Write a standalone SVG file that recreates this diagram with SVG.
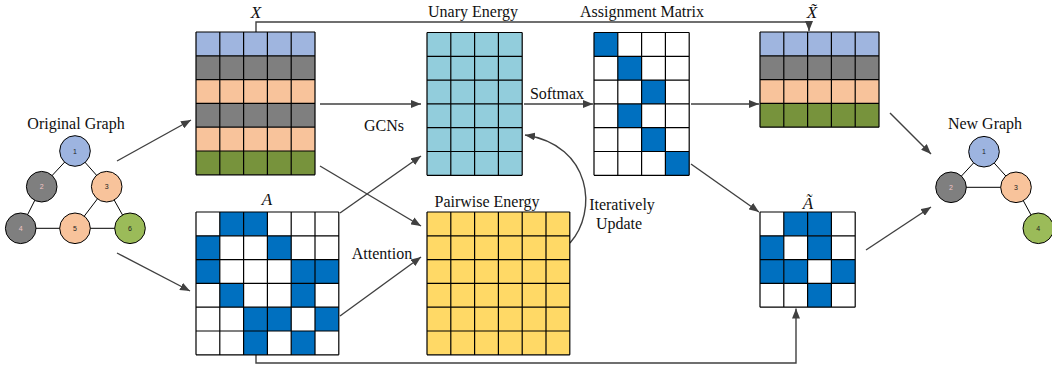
<svg xmlns="http://www.w3.org/2000/svg" width="1052" height="373" viewBox="0 0 1052 373">
  <defs>
    <style>
      .lbl { font-family: "Liberation Serif", "Times New Roman", serif; font-size: 16px; fill: #111; text-anchor: middle; }
      .math { font-family: "Liberation Serif", "Times New Roman", serif; font-size: 17px; font-style: italic; fill: #111; text-anchor: middle; }
      .nlbl { font-family: "Liberation Sans", Arial, sans-serif; font-size: 7px; text-anchor: middle; fill: #222; }
      .nlbl-light { fill: #F2C6C6; }
      .grid { fill: none; stroke: #000; stroke-width: 1.2; }
      .blue { fill: #9FB5DF; }
      .gray { fill: #7F7F7F; }
      .peach { fill: #F8C39B; }
      .green { fill: #77933C; }
      .cyan { fill: #92CDDC; }
      .yellow { fill: #FFD966; }
      .white { fill: #FFFFFF; }
      .on { fill: #0070C0; }
      .edge { stroke: #000; stroke-width: 1; fill: none; }
      .node { stroke: #000; stroke-width: 1; }
      .conn { stroke: #404040; stroke-width: 1.4; fill: none; marker-end: url(#arrow); }
    </style>
    <marker id="arrow" viewBox="0 0 10 8" refX="10" refY="4" markerWidth="10" markerHeight="8" markerUnits="userSpaceOnUse" orient="auto">
      <path d="M0,0 L10,4 L0,8 z" fill="#404040"/>
    </marker>
  </defs>

  <rect width="1052" height="373" fill="#FFFFFF"/>

  <!-- connectors -->
  <g id="connectors">
    <path class="conn" d="M256,32 V22 H809 V31"/>
    <path class="conn" d="M256,355 V363 H796 V308.5"/>
    <path class="conn" d="M117,161 L191,120"/>
    <path class="conn" d="M117,253 L190,291"/>
    <path class="conn" d="M320,104 H421"/>
    <path class="conn" d="M320,166 L421,226"/>
    <path class="conn" d="M340,213 L421,156"/>
    <path class="conn" d="M340,316 L421,257"/>
    <path class="conn" d="M524,104 H593"/>
    <path class="conn" d="M691,104 H759"/>
    <path class="conn" d="M691,164 L759,212"/>
    <path class="conn" d="M890,113 L931,154"/>
    <path class="conn" d="M866,250 L931,207"/>
    <path class="conn" d="M570,243 C598,212 592,145 525,135"/>
  </g>

  <!-- original graph -->
  <g id="original-graph">
    <text class="lbl" x="76" y="129">Original Graph</text>
    <path class="edge" d="M75,151 L41.7,186.7 M75,151 L106.7,186.7 M41.7,186.7 L20.7,228.3 M106.7,186.7 L75,228.3 M106.7,186.7 L130,228.3 M20.7,228.3 L75,228.3 M75,228.3 L130,228.3"/>
    <g id="og-node-1"><circle class="node" cx="75" cy="151" r="15.3" fill="#9DB4E0"/><text class="nlbl" x="75" y="153.5">1</text></g>
    <g id="og-node-2"><circle class="node" cx="41.7" cy="186.7" r="15.3" fill="#7F7F7F"/><text class="nlbl nlbl-light" x="41.7" y="189.2">2</text></g>
    <g id="og-node-3"><circle class="node" cx="106.7" cy="186.7" r="15.3" fill="#F8C39B"/><text class="nlbl" x="106.7" y="189.2">3</text></g>
    <g id="og-node-4"><circle class="node" cx="20.7" cy="228.3" r="15.3" fill="#7F7F7F"/><text class="nlbl nlbl-light" x="20.7" y="230.8">4</text></g>
    <g id="og-node-5"><circle class="node" cx="75" cy="228.3" r="15.3" fill="#F8C39B"/><text class="nlbl" x="75" y="230.8">5</text></g>
    <g id="og-node-6"><circle class="node" cx="130" cy="228.3" r="15.3" fill="#9BBB59"/><text class="nlbl" x="130" y="230.8">6</text></g>
  </g>

  <!-- feature matrix X -->
  <g id="matrix-x">
    <text class="math" x="256" y="18">X</text>
    <g transform="translate(196,32)">
      <rect class="blue" x="0" y="0" width="119" height="23.8"/>
      <rect class="gray" x="0" y="23.8" width="119" height="23.8"/>
      <rect class="peach" x="0" y="47.6" width="119" height="23.8"/>
      <rect class="gray" x="0" y="71.4" width="119" height="23.8"/>
      <rect class="peach" x="0" y="95.2" width="119" height="23.8"/>
      <rect class="green" x="0" y="119" width="119" height="23.8"/>
      <path class="grid" d="M0,0V142.8 M23.8,0V142.8 M47.6,0V142.8 M71.4,0V142.8 M95.2,0V142.8 M119,0V142.8 M0,0H119 M0,23.8H119 M0,47.6H119 M0,71.4H119 M0,95.2H119 M0,119H119 M0,142.8H119"/>
    </g>
  </g>

  <!-- adjacency matrix A -->
  <g id="matrix-a">
    <text class="math" x="267" y="205">A</text>
    <g transform="translate(196,212)">
      <rect class="white" x="0" y="0" width="142.8" height="142.8"/>
      <rect class="on" x="23.8" y="0" width="23.8" height="23.8"/>
      <rect class="on" x="47.6" y="0" width="23.8" height="23.8"/>
      <rect class="on" x="0" y="23.8" width="23.8" height="23.8"/>
      <rect class="on" x="71.4" y="23.8" width="23.8" height="23.8"/>
      <rect class="on" x="0" y="47.6" width="23.8" height="23.8"/>
      <rect class="on" x="95.2" y="47.6" width="23.8" height="23.8"/>
      <rect class="on" x="119" y="47.6" width="23.8" height="23.8"/>
      <rect class="on" x="23.8" y="71.4" width="23.8" height="23.8"/>
      <rect class="on" x="95.2" y="71.4" width="23.8" height="23.8"/>
      <rect class="on" x="47.6" y="95.2" width="23.8" height="23.8"/>
      <rect class="on" x="71.4" y="95.2" width="23.8" height="23.8"/>
      <rect class="on" x="119" y="95.2" width="23.8" height="23.8"/>
      <rect class="on" x="47.6" y="119" width="23.8" height="23.8"/>
      <rect class="on" x="95.2" y="119" width="23.8" height="23.8"/>
      <path class="grid" d="M0,0V142.8 M23.8,0V142.8 M47.6,0V142.8 M71.4,0V142.8 M95.2,0V142.8 M119,0V142.8 M142.8,0V142.8 M0,0H142.8 M0,23.8H142.8 M0,47.6H142.8 M0,71.4H142.8 M0,95.2H142.8 M0,119H142.8 M0,142.8H142.8"/>
    </g>
  </g>

  <!-- unary energy -->
  <g id="unary-energy">
    <text class="lbl" x="473" y="17">Unary Energy</text>
    <g transform="translate(427,32.5)">
      <rect class="cyan" x="0" y="0" width="95.2" height="142.8"/>
      <path class="grid" d="M0,0V142.8 M23.8,0V142.8 M47.6,0V142.8 M71.4,0V142.8 M95.2,0V142.8 M0,0H95.2 M0,23.8H95.2 M0,47.6H95.2 M0,71.4H95.2 M0,95.2H95.2 M0,119H95.2 M0,142.8H95.2"/>
    </g>
  </g>

  <!-- pairwise energy -->
  <g id="pairwise-energy">
    <text class="lbl" x="487" y="207">Pairwise Energy</text>
    <g transform="translate(427,212)">
      <rect class="yellow" x="0" y="0" width="142.8" height="142.8"/>
      <path class="grid" d="M0,0V142.8 M23.8,0V142.8 M47.6,0V142.8 M71.4,0V142.8 M95.2,0V142.8 M119,0V142.8 M142.8,0V142.8 M0,0H142.8 M0,23.8H142.8 M0,47.6H142.8 M0,71.4H142.8 M0,95.2H142.8 M0,119H142.8 M0,142.8H142.8"/>
    </g>
  </g>

  <!-- assignment matrix -->
  <g id="assignment-matrix">
    <text class="lbl" x="642" y="17">Assignment Matrix</text>
    <g transform="translate(594,32.5)">
      <rect class="white" x="0" y="0" width="95.2" height="142.8"/>
      <rect class="on" x="0" y="0" width="23.8" height="23.8"/>
      <rect class="on" x="23.8" y="23.8" width="23.8" height="23.8"/>
      <rect class="on" x="47.6" y="47.6" width="23.8" height="23.8"/>
      <rect class="on" x="23.8" y="71.4" width="23.8" height="23.8"/>
      <rect class="on" x="47.6" y="95.2" width="23.8" height="23.8"/>
      <rect class="on" x="71.4" y="119" width="23.8" height="23.8"/>
      <path class="grid" d="M0,0V142.8 M23.8,0V142.8 M47.6,0V142.8 M71.4,0V142.8 M95.2,0V142.8 M0,0H95.2 M0,23.8H95.2 M0,47.6H95.2 M0,71.4H95.2 M0,95.2H95.2 M0,119H95.2 M0,142.8H95.2"/>
    </g>
  </g>

  <!-- pooled features X~ -->
  <g id="matrix-x-tilde">
    <text class="math" x="812" y="18">X̃</text>
    <g transform="translate(760,32)">
      <rect class="blue" x="0" y="0" width="119" height="23.8"/>
      <rect class="gray" x="0" y="23.8" width="119" height="23.8"/>
      <rect class="peach" x="0" y="47.6" width="119" height="23.8"/>
      <rect class="green" x="0" y="71.4" width="119" height="23.8"/>
      <path class="grid" d="M0,0V95.2 M23.8,0V95.2 M47.6,0V95.2 M71.4,0V95.2 M95.2,0V95.2 M119,0V95.2 M0,0H119 M0,23.8H119 M0,47.6H119 M0,71.4H119 M0,95.2H119"/>
    </g>
  </g>

  <!-- pooled adjacency A~ -->
  <g id="matrix-a-tilde">
    <text class="math" x="808" y="209">Ã</text>
    <g transform="translate(760,212)">
      <rect class="white" x="0" y="0" width="95.2" height="95.2"/>
      <rect class="on" x="23.8" y="0" width="23.8" height="23.8"/>
      <rect class="on" x="47.6" y="0" width="23.8" height="23.8"/>
      <rect class="on" x="0" y="23.8" width="23.8" height="23.8"/>
      <rect class="on" x="47.6" y="23.8" width="23.8" height="23.8"/>
      <rect class="on" x="0" y="47.6" width="23.8" height="23.8"/>
      <rect class="on" x="23.8" y="47.6" width="23.8" height="23.8"/>
      <rect class="on" x="71.4" y="47.6" width="23.8" height="23.8"/>
      <rect class="on" x="47.6" y="71.4" width="23.8" height="23.8"/>
      <path class="grid" d="M0,0V95.2 M23.8,0V95.2 M47.6,0V95.2 M71.4,0V95.2 M95.2,0V95.2 M0,0H95.2 M0,23.8H95.2 M0,47.6H95.2 M0,71.4H95.2 M0,95.2H95.2"/>
    </g>
  </g>

  <!-- operation labels -->
  <g id="op-labels">
    <text class="lbl" x="557" y="98.5">Softmax</text>
    <text class="lbl" x="384" y="131">GCNs</text>
    <text class="lbl" x="382" y="259">Attention</text>
    <text class="lbl" x="622" y="210">Iteratively</text>
    <text class="lbl" x="619" y="229">Update</text>
  </g>

  <!-- new graph -->
  <g id="new-graph">
    <text class="lbl" x="985" y="129">New Graph</text>
    <path class="edge" d="M984,151.7 L951,187.3 M984,151.7 L1016,187.3 M951,187.3 L1016,187.3 M1016,187.3 L1038.3,228.3"/>
    <g id="ng-node-1"><circle class="node" cx="984" cy="151.7" r="15.3" fill="#9DB4E0"/><text class="nlbl" x="984" y="154.2">1</text></g>
    <g id="ng-node-2"><circle class="node" cx="951" cy="187.3" r="15.3" fill="#7F7F7F"/><text class="nlbl nlbl-light" x="951" y="189.8">2</text></g>
    <g id="ng-node-3"><circle class="node" cx="1016" cy="187.3" r="15.3" fill="#F8C39B"/><text class="nlbl" x="1016" y="189.8">3</text></g>
    <g id="ng-node-4"><circle class="node" cx="1038.3" cy="228.3" r="15.3" fill="#9BBB59"/><text class="nlbl" x="1038.3" y="230.8">4</text></g>
  </g>
</svg>
